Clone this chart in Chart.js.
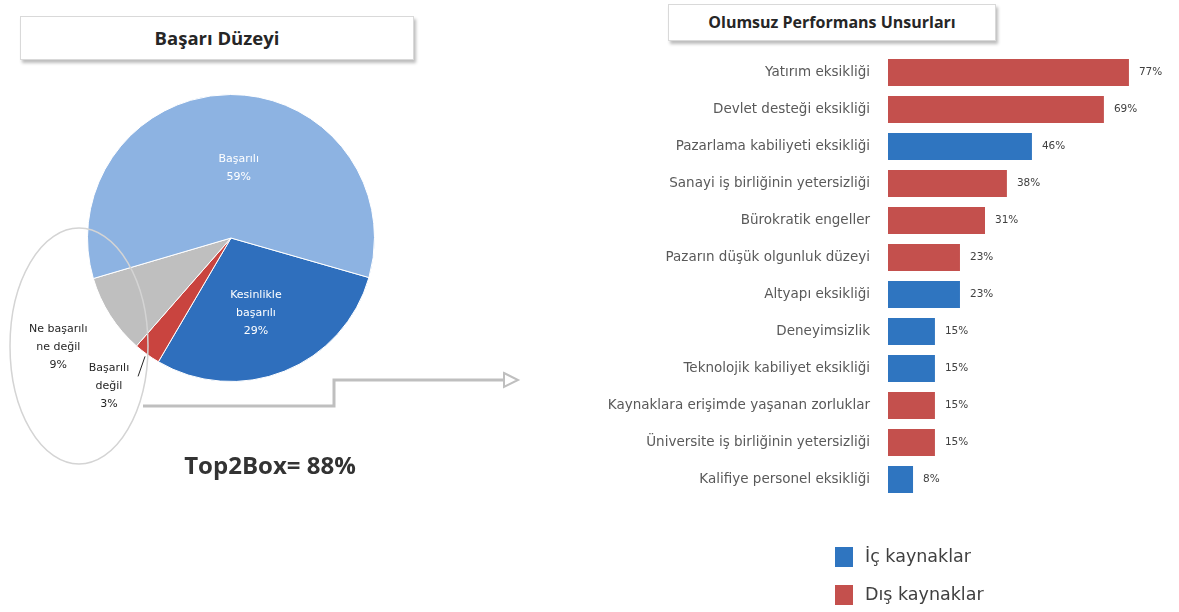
<!DOCTYPE html>
<html>
<head>
<meta charset="utf-8">
<script src="https://cdn.jsdelivr.net/npm/chart.js@4"></script>
<style>
  body { margin: 0; background: #fff; width: 1179px; height: 612px; overflow: hidden; position: relative; font-family: "Open Sans", sans-serif; }
  canvas { position: absolute; }
  #pieChart { left: 0; top: 0; }
  #barChart { left: 560px; top: 0; }
  .titleBox { position: absolute; background: #fff; border: 1px solid #d9d9d9; box-shadow: 2px 3px 3px #bdbdbd;
              font-weight: bold; color: #262626; text-align: center; }
</style>
</head>
<body>
<div class="titleBox" style="left:20px; top:16px; width:392px; height:42px; line-height:42px; font-size:18.5px;">Başarı Düzeyi</div>
<div class="titleBox" style="left:668px; top:4px; width:326px; height:35px; line-height:35px; font-size:16px;">Olumsuz Performans Unsurları</div>
<canvas id="pieChart" width="560" height="612"></canvas>
<canvas id="barChart" width="619" height="612"></canvas>
<script>
// pie: Başarı Düzeyi
const pieLabels = ['Kesinlikle başarılı', 'Başarılı değil', 'Ne başarılı ne değil', 'Başarılı'];
const pieValues = [29, 3, 9, 59];
const pieColors = ['#2F6FBD', '#C9443F', '#BFBFBF', '#8DB3E2'];
const top2Box = 88;

// bars: Olumsuz Performans Unsurları
const barLabels = [
    'Yatırım eksikliği',
    'Devlet desteği eksikliği',
    'Pazarlama kabiliyeti eksikliği',
    'Sanayi iş birliğinin yetersizliği',
    'Bürokratik engeller',
    'Pazarın düşük olgunluk düzeyi',
    'Altyapı eksikliği',
    'Deneyimsizlik',
    'Teknolojik kabiliyet eksikliği',
    'Kaynaklara erişimde yaşanan zorluklar',
    'Üniversite iş birliğinin yetersizliği',
    'Kalifiye personel eksikliği'
];
const barValues = [77, 69, 46, 38, 31, 23, 23, 15, 15, 15, 15, 8];
const barSource = ['dis', 'dis', 'ic', 'dis', 'dis', 'dis', 'ic', 'ic', 'ic', 'dis', 'dis', 'ic'];
const sourceNames = { ic: 'İç kaynaklar', dis: 'Dış kaynaklar' };
const sourceColors = { ic: '#2F75C0', dis: '#C4504D' };

const FONT = '"Open Sans", sans-serif';
const WIDE = '"DejaVu Sans", sans-serif';

const pieExtras = {
    id: 'pieExtras',
    afterDraw(chart) {
        const ctx = chart.ctx;
        const meta = chart.getDatasetMeta(0);
        const arc0 = meta.data[0];
        const cx = arc0.x, cy = arc0.y, r = arc0.outerRadius;

        // ellipse around the negative answers
        ctx.save();
        ctx.strokeStyle = '#d4d4d4';
        ctx.lineWidth = 1.5;
        ctx.beginPath();
        ctx.ellipse(79, 346, 69, 118, 0, 0, Math.PI * 2);
        ctx.stroke();

        // connector arrow to the right chart
        ctx.strokeStyle = '#bfbfbf';
        ctx.lineWidth = 3;
        ctx.beginPath();
        ctx.moveTo(143, 406);
        ctx.lineTo(334, 406);
        ctx.lineTo(334, 380);
        ctx.lineTo(508, 380);
        ctx.stroke();
        ctx.fillStyle = '#fff';
        ctx.lineWidth = 2;
        ctx.beginPath();
        ctx.moveTo(504, 373);
        ctx.lineTo(518, 380);
        ctx.lineTo(504, 387);
        ctx.closePath();
        ctx.fill();
        ctx.stroke();

        // slice labels
        ctx.font = '11px ' + WIDE;
        ctx.textAlign = 'center';
        ctx.textBaseline = 'middle';
        const lh = 18;
        const label = (lines, x, y, color) => {
            ctx.fillStyle = color;
            lines.forEach((t, i) => ctx.fillText(t, x, y + (i - (lines.length - 1) / 2) * lh));
        };
        const mid = (i, f) => {
            const a = meta.data[i];
            const ang = (a.startAngle + a.endAngle) / 2;
            return { x: cx + Math.cos(ang) * r * f, y: cy + Math.sin(ang) * r * f };
        };
        let p = mid(3, 0.5);
        label(['Başarılı', pieValues[3] + '%'], p.x + 8, p.y + 2, '#ffffff');
        p = mid(0, 0.58);
        label(['Kesinlikle', 'başarılı', pieValues[0] + '%'], p.x - 6, p.y - 2, '#ffffff');
        p = mid(2, 1.28);
        label(['Ne başarılı', 'ne değil', pieValues[2] + '%'], p.x - 18, p.y + 10, '#262626');
        p = mid(1, 1.12);
        label(['Başarılı', 'değil', pieValues[1] + '%'], p.x - 28, p.y + 18, '#262626');

        // leader line for the thin slice
        const e = mid(1, 1.0);
        ctx.strokeStyle = '#262626';
        ctx.lineWidth = 1;
        ctx.beginPath();
        ctx.moveTo(e.x - 2, e.y + 2);
        ctx.lineTo(e.x - 9, e.y + 22);
        ctx.stroke();

        // Top2Box
        ctx.font = 'bold 24px ' + FONT;
        ctx.fillStyle = '#333333';
        ctx.fillText('Top2Box= ' + top2Box + '%', 270, 467);
        ctx.restore();
    }
};

new Chart(document.getElementById('pieChart'), {
    type: 'pie',
    data: {
        labels: pieLabels,
        datasets: [{
            data: pieValues,
            backgroundColor: pieColors,
            borderColor: '#ffffff',
            borderWidth: 1
        }]
    },
    options: {
        responsive: false,
        animation: false,
        rotation: 106,
        layout: { padding: { left: 86, top: 94, right: 184, bottom: 230 } },
        plugins: { legend: { display: false }, tooltip: { enabled: false } }
    },
    plugins: [pieExtras]
});

const barExtras = {
    id: 'barExtras',
    afterDatasetsDraw(chart) {
        const ctx = chart.ctx;
        const meta = chart.getDatasetMeta(0);
        ctx.save();
        ctx.font = '10.5px ' + WIDE;
        ctx.fillStyle = '#404040';
        ctx.textAlign = 'left';
        ctx.textBaseline = 'middle';
        meta.data.forEach((bar, i) => {
            ctx.fillText(barValues[i] + '%', bar.x + 10, bar.y);
        });

        // legend
        ctx.font = '17.5px ' + WIDE;
        ['ic', 'dis'].forEach((k, i) => {
            const y = 557 + i * 38;
            ctx.fillStyle = sourceColors[k];
            ctx.fillRect(275, y - 10, 18, 20);
            ctx.fillStyle = '#404040';
            ctx.fillText(sourceNames[k], 305, y);
        });
        ctx.restore();
    }
};

new Chart(document.getElementById('barChart'), {
    type: 'bar',
    data: {
        labels: barLabels,
        datasets: [{
            data: barValues,
            backgroundColor: barSource.map(s => sourceColors[s]),
            categoryPercentage: 1,
            barPercentage: 0.73
        }]
    },
    options: {
        indexAxis: 'y',
        responsive: false,
        animation: false,
        layout: { padding: { top: 54, bottom: 114, right: 0, left: 0 } },
        scales: {
            x: { display: false, min: 0, max: 93 },
            y: {
                grid: { display: false },
                border: { display: false },
                afterFit(scale) { scale.width = 328; },
                ticks: { color: '#595959', padding: 10, font: { family: WIDE, size: 13.5 } }
            }
        },
        plugins: { legend: { display: false }, tooltip: { enabled: false } }
    },
    plugins: [barExtras]
});
</script>
</body>
</html>
